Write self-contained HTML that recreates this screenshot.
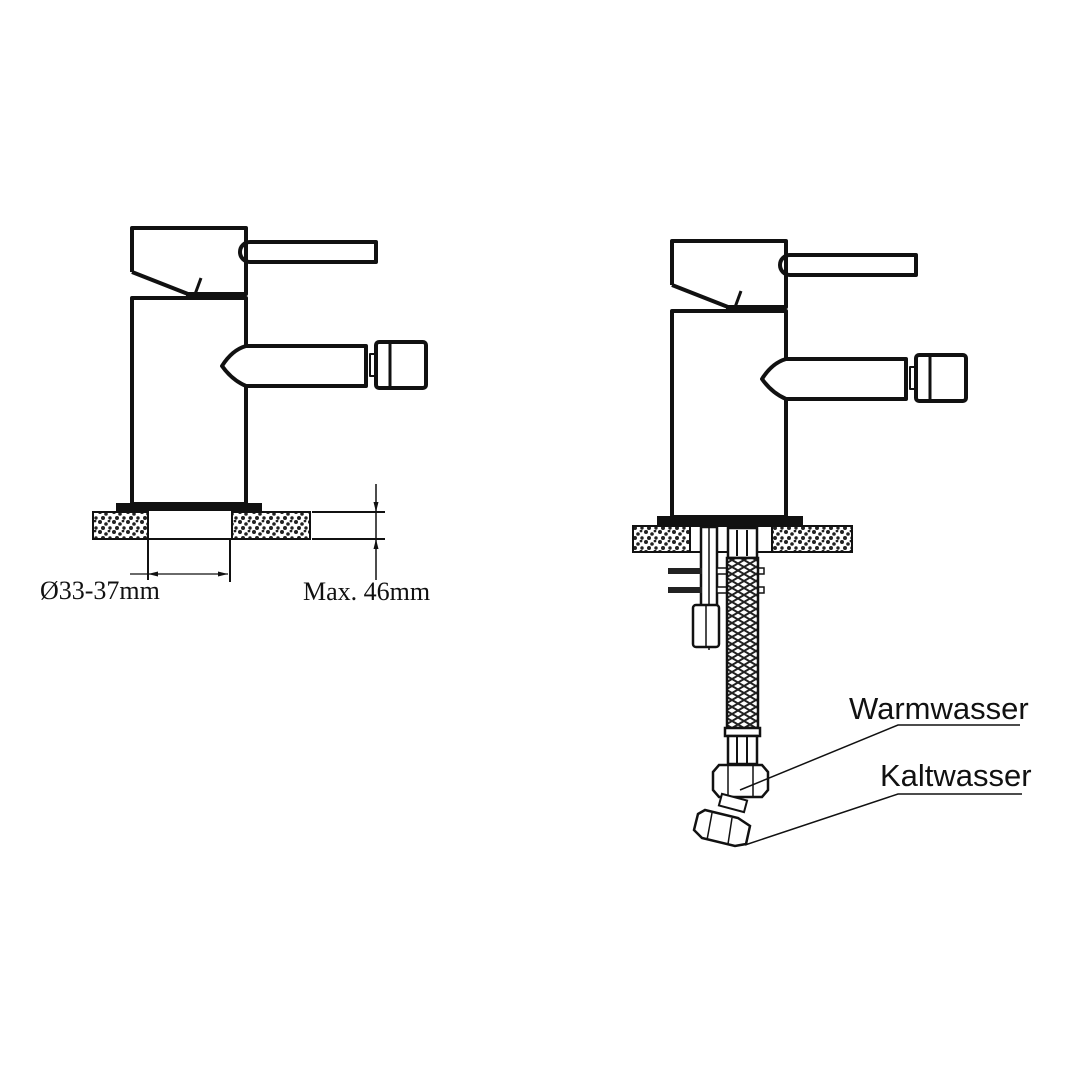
<!DOCTYPE html>
<html><head><meta charset="utf-8"><style>
html,body{margin:0;padding:0;background:#fff;}
svg{display:block;}
</style></head><body>
<svg width="1080" height="1080" viewBox="0 0 1080 1080" xmlns="http://www.w3.org/2000/svg">
<defs>
<pattern id="spk" width="14" height="10" patternUnits="userSpaceOnUse">
<rect width="14" height="10" fill="#fff"/>
<circle cx="2" cy="2" r="2" fill="#222"/><circle cx="8" cy="4" r="1.8" fill="#222"/>
<circle cx="5" cy="8" r="2" fill="#222"/><circle cx="12" cy="8" r="1.7" fill="#222"/>
<circle cx="11" cy="1" r="1.4" fill="#222"/>
</pattern>
<pattern id="braid" width="12" height="14" patternUnits="userSpaceOnUse">
<rect width="12" height="14" fill="#fff"/>
<path d="M0 0 L12 7 M0 7 L12 14 M12 0 L0 7 M12 7 L0 14" stroke="#222" stroke-width="2"/>
</pattern>
<g id="faucet" fill="none" stroke="#111" stroke-width="4" stroke-linejoin="round">
<path d="M132 272 L132 228 L246 228 L246 294 L188 294 L132 272"/>
<line x1="201" y1="278" x2="194" y2="297" stroke-width="3"/>
<rect x="186" y="292" width="60" height="6" fill="#111" stroke="none"/>
<path d="M250 242 L376 242 L376 262 L250 262 A10 10 0 0 1 250 242Z"/>
<path d="M132 504 L132 298 L246 298 L246 346"/>
<path d="M246 386 L246 504 L132 504"/>
<path d="M246 346 L366 346 L366 386 L246 386 Q232 380 222 366 Q232 350 246 346Z"/>
<rect x="376" y="342" width="50" height="46" rx="3"/>
<line x1="390" y1="342" x2="390" y2="388" stroke-width="3"/>
<rect x="370" y="354" width="6" height="22" stroke-width="2"/>
</g>
</defs>

<!-- LEFT -->
<use href="#faucet"/>
<rect x="116" y="503" width="146" height="8" fill="#111"/>
<rect x="93" y="512" width="55" height="27" fill="url(#spk)" stroke="#111" stroke-width="2"/>
<rect x="232" y="512" width="78" height="27" fill="url(#spk)" stroke="#111" stroke-width="2"/>
<line x1="93" y1="539" x2="310" y2="539" stroke="#111" stroke-width="2"/>
<line x1="148" y1="539" x2="148" y2="580" stroke="#111" stroke-width="2"/>
<line x1="230" y1="539" x2="230" y2="582" stroke="#111" stroke-width="2"/>
<line x1="130" y1="574" x2="228" y2="574" stroke="#111" stroke-width="1.2"/>
<path d="M148 574 l10 -2.5 v5z M228 574 l-10 -2.5 v5z" fill="#111"/>
<line x1="312" y1="512" x2="385" y2="512" stroke="#111" stroke-width="2"/>
<line x1="312" y1="539" x2="385" y2="539" stroke="#111" stroke-width="2"/>
<line x1="376" y1="484" x2="376" y2="580" stroke="#111" stroke-width="1.5"/>
<path d="M376 512 l-2.5 -10 h5z M376 539 l-2.5 10 h5z" fill="#111"/>
<text x="40" y="599" font-family="Liberation Serif, serif" font-size="26" fill="#111">Ø33-37mm</text>
<text x="303" y="600" font-family="Liberation Serif, serif" font-size="26" fill="#111">Max. 46mm</text>

<!-- RIGHT -->
<g transform="translate(540,13)"><use href="#faucet"/></g>
<rect x="657" y="516" width="146" height="9" fill="#111"/>
<rect x="633" y="526" width="57" height="26" fill="url(#spk)" stroke="#111" stroke-width="2"/>
<rect x="772" y="526" width="80" height="26" fill="url(#spk)" stroke="#111" stroke-width="2"/>
<rect x="690" y="526" width="82" height="26" fill="#fff" stroke="#111" stroke-width="2"/>
<rect x="701" y="527" width="16" height="80" fill="#fff" stroke="#111" stroke-width="2.5"/>
<line x1="709" y1="527" x2="709" y2="650" stroke="#111" stroke-width="1.5"/>
<rect x="693" y="605" width="26" height="42" rx="3" fill="#fff" stroke="#111" stroke-width="2.5"/>
<line x1="706" y1="605" x2="706" y2="647" stroke="#111" stroke-width="1.5"/>
<rect x="668" y="568" width="34" height="6" fill="#222"/>
<rect x="668" y="587" width="34" height="6" fill="#222"/>
<rect x="717" y="568" width="47" height="6" fill="#fff" stroke="#111" stroke-width="1.5"/>
<rect x="717" y="587" width="47" height="6" fill="#fff" stroke="#111" stroke-width="1.5"/>
<rect x="728" y="528" width="29" height="30" fill="#fff" stroke="#111" stroke-width="2.5"/>
<line x1="737" y1="530" x2="737" y2="556" stroke="#111" stroke-width="2"/>
<line x1="747" y1="530" x2="747" y2="556" stroke="#111" stroke-width="2"/>
<rect x="727" y="558" width="31" height="170" fill="url(#braid)" stroke="#111" stroke-width="2.5"/>
<rect x="725" y="728" width="35" height="8" fill="#fff" stroke="#111" stroke-width="2.5"/>
<rect x="728" y="736" width="29" height="28" fill="#fff" stroke="#111" stroke-width="2.5"/>
<line x1="737" y1="737" x2="737" y2="763" stroke="#111" stroke-width="2"/>
<line x1="747" y1="737" x2="747" y2="763" stroke="#111" stroke-width="2"/>
<path d="M719 765 L762 765 L768 772 L768 790 L762 797 L719 797 L713 790 L713 772 Z" fill="#fff" stroke="#111" stroke-width="2.5"/>
<line x1="728" y1="766" x2="728" y2="796" stroke="#111" stroke-width="1.5"/>
<line x1="753" y1="766" x2="753" y2="796" stroke="#111" stroke-width="1.5"/>
<rect x="720" y="797" width="26" height="12" fill="#fff" stroke="#111" stroke-width="2" transform="rotate(15 733 803)"/>
<path d="M705 810 L738 818 L750 826 L746 844 L735 846 L702 838 L694 830 L698 814 Z" fill="#fff" stroke="#111" stroke-width="2.5"/>
<line x1="712" y1="813" x2="707" y2="840" stroke="#111" stroke-width="1.5"/>
<line x1="732" y1="818" x2="728" y2="844" stroke="#111" stroke-width="1.5"/>
<polyline points="740,790 898,725 1020,725" fill="none" stroke="#111" stroke-width="1.5"/>
<polyline points="745,845 898,794 1022,794" fill="none" stroke="#111" stroke-width="1.5"/>
<text x="849" y="719" font-family="Liberation Sans, sans-serif" font-size="31" fill="#111">Warmwasser</text>
<text x="880" y="786" font-family="Liberation Sans, sans-serif" font-size="31" fill="#111">Kaltwasser</text>
</svg>
</body></html>
